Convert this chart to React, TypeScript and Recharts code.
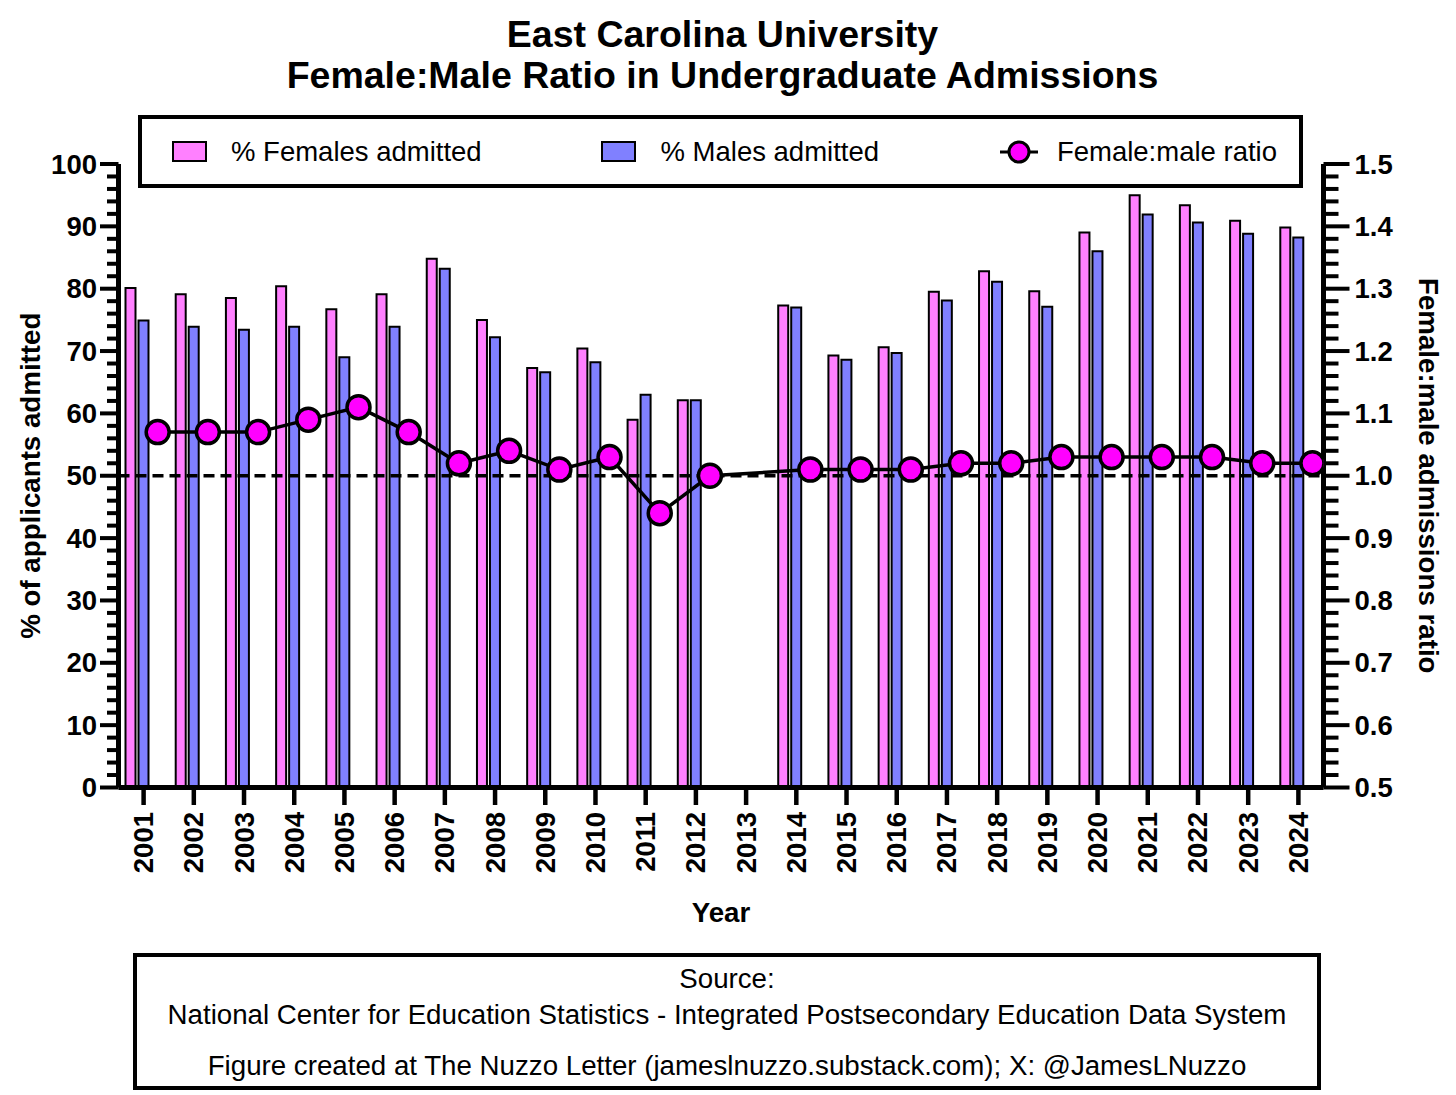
import React from 'react';
import { ComposedChart, Bar, Line, XAxis, YAxis, ReferenceLine, Legend, Label } from 'recharts';

const years = ['2001', '2002', '2003', '2004', '2005', '2006', '2007', '2008', '2009', '2010', '2011', '2012', '2013', '2014', '2015', '2016', '2017', '2018', '2019', '2020', '2021', '2022', '2023', '2024'];
const femalePct = [80.1, 79.1, 78.5, 80.4, 76.7, 79.1, 84.8, 75.0, 67.3, 70.4, 59.0, 62.1, null, 77.3, 69.3, 70.6, 79.5, 82.8, 79.6, 89.0, 95.0, 93.4, 90.9, 89.8];
const malePct = [74.9, 73.9, 73.4, 73.9, 69.0, 73.9, 83.2, 72.2, 66.6, 68.2, 63.0, 62.1, null, 77.0, 68.6, 69.7, 78.1, 81.1, 77.1, 86.0, 91.9, 90.6, 88.8, 88.2];
const ratio = [1.07, 1.07, 1.07, 1.09, 1.11, 1.07, 1.02, 1.04, 1.01, 1.03, 0.94, 1.0, null, 1.01, 1.01, 1.01, 1.02, 1.02, 1.03, 1.03, 1.03, 1.03, 1.02, 1.02];

const leftMajorTicks = [0, 10, 20, 30, 40, 50, 60, 70, 80, 90, 100];
const rightMajorTicks = [0.5, 0.6, 0.7, 0.8, 0.9, 1.0, 1.1, 1.2, 1.3, 1.4, 1.5];
const leftTicks: number[] = [];
for (let i = 0; i <= 50; i++) leftTicks.push(i * 2);
const rightTicks: number[] = [];
for (let i = 0; i <= 50; i++) rightTicks.push(Math.round((0.5 + i * 0.02) * 100) / 100);

const data = years.map((y, i) => ({
  year: y,
  yearNum: Number(y),
  female: femalePct[i],
  male: malePct[i],
  spacer: null,
  ratio: ratio[i],
}));

const FONT = '"Liberation Sans", Arial, Helvetica, sans-serif';
const PINK = '#FF80FF';
const BLUE = '#8080FF';
const MAGENTA = '#FF00FF';
const TICK_FS = 27.5;
const TITLE_FS = 27.7;

const isMajor = (v: number, list: number[]) => list.some((m) => Math.abs(m - v) < 1e-6);

const LeftTick = (props: any) => {
  const { x, y, payload } = props;
  const v = payload.value;
  const major = isMajor(v, leftMajorTicks);
  return (
    <g>
      <line x1={x} x2={x - (major ? 18.5 : 11.5)} y1={y} y2={y} stroke="#000" strokeWidth={4} />
      {major && (
        <text x={x - 21.5} y={y} textAnchor="end" dominantBaseline="central" fontSize={TICK_FS} fontWeight="bold" fontFamily={FONT} fill="#000">
          {v}
        </text>
      )}
    </g>
  );
};

const RightTick = (props: any) => {
  const { x, y, payload } = props;
  const v = payload.value;
  const major = isMajor(v, rightMajorTicks);
  return (
    <g>
      <line x1={x} x2={x + (major ? 26 : 15)} y1={y} y2={y} stroke="#000" strokeWidth={4} />
      {major && (
        <text x={x + 31} y={y} textAnchor="start" dominantBaseline="central" fontSize={TICK_FS} fontWeight="bold" fontFamily={FONT} fill="#000">
          {Number(v).toFixed(1)}
        </text>
      )}
    </g>
  );
};

const XTick = (props: any) => {
  const { x, y, payload } = props;
  const ty = y + 24.5;
  return (
    <g>
      <line x1={x} x2={x} y1={y} y2={y + 17.5} stroke="#000" strokeWidth={4.5} />
      <text x={x} y={ty} transform={`rotate(-90, ${x}, ${ty})`} textAnchor="end" dominantBaseline="central" fontSize={TICK_FS} fontWeight="bold" fontFamily={FONT} fill="#000">
        {payload.value}
      </text>
    </g>
  );
};

const renderLegend = (props: any) => {
  const payload = (props.payload || []).filter((p: any) => p.type !== 'none');
  return (
    <div
      style={{
        boxSizing: 'border-box',
        width: 1165,
        height: 73,
        border: '4px solid #000',
        background: '#fff',
        display: 'flex',
        alignItems: 'center',
        justifyContent: 'space-between',
        paddingLeft: 30,
        paddingRight: 22,
        fontFamily: FONT,
        fontSize: 27.5,
        color: '#000',
      }}
    >
      {payload.map((entry: any, i: number) => (
        <div key={i} style={{ display: 'flex', alignItems: 'center' }}>
          {entry.type === 'line' ? (
            <svg width={40} height={26} style={{ marginRight: 18 }}>
              <line x1={1} x2={39} y1={13} y2={13} stroke="#000" strokeWidth={3} />
              <circle cx={20} cy={13} r={10} fill={MAGENTA} stroke="#000" strokeWidth={3} />
            </svg>
          ) : (
            <div style={{ boxSizing: 'border-box', width: 35, height: 21, background: entry.color, border: '2px solid #000', marginRight: 24 }} />
          )}
          <span style={{ lineHeight: '30px' }}>{entry.value}</span>
        </div>
      ))}
    </div>
  );
};

const YLeftTitle = (props: any) => {
  const vb = props.viewBox || {};
  const cx = vb.x + 22;
  const cy = vb.y + vb.height / 2;
  return (
    <text x={cx} y={cy} transform={`rotate(-90, ${cx}, ${cy})`} textAnchor="middle" dominantBaseline="central" fontSize={TITLE_FS} fontWeight="bold" fontFamily={FONT} fill="#000">
      % of applicants admitted
    </text>
  );
};

const YRightTitle = (props: any) => {
  const vb = props.viewBox || {};
  const cx = vb.x + 104.5;
  const cy = vb.y + vb.height / 2;
  return (
    <text x={cx} y={cy} transform={`rotate(90, ${cx}, ${cy})`} textAnchor="middle" dominantBaseline="central" fontSize={TITLE_FS} fontWeight="bold" fontFamily={FONT} fill="#000">
      Female:male admissions ratio
    </text>
  );
};

const XTitle = (props: any) => {
  const vb = props.viewBox || {};
  const cx = vb.x + vb.width / 2;
  const cy = vb.y + 124.5;
  return (
    <text x={cx} y={cy} textAnchor="middle" dominantBaseline="central" fontSize={TITLE_FS} fontWeight="bold" fontFamily={FONT} fill="#000">
      Year
    </text>
  );
};

export default function App() {
  return (
    <div style={{ position: 'relative', width: 1440, height: 1087, fontFamily: FONT, background: '#fff' }}>
      <div style={{ position: 'absolute', left: 0, top: 6, width: 1429, textAlign: 'center', fontSize: 37.5, fontWeight: 'bold', lineHeight: '40px', color: '#000' }}>
        East Carolina University
      </div>
      <div style={{ position: 'absolute', left: 0, top: 47, width: 1429, textAlign: 'center', fontSize: 37.5, fontWeight: 'bold', lineHeight: '40px', color: '#000' }}>
        Female:Male Ratio in Undergraduate Admissions
      </div>

      <ComposedChart
        width={1440}
        height={1087}
        data={data}
        margin={{ top: 156, right: 0, bottom: 207.5, left: 0 }}
        barGap={3}
        style={{ position: 'absolute', left: 0, top: 0 }}
      >
        <XAxis
          dataKey="year"
          interval={0}
          tickSize={0}
          tickMargin={0}
          tickLine={false}
          axisLine={{ stroke: '#000', strokeWidth: 5 }}
          tick={XTick}
          height={100}
        >
          <Label content={XTitle} />
        </XAxis>
        <XAxis xAxisId="num" type="number" dataKey="yearNum" domain={[2000.22, 2024.22]} allowDataOverflow hide />
        <YAxis
          yAxisId="left"
          domain={[0, 100]}
          ticks={leftTicks}
          interval={0}
          tickSize={0}
          tickMargin={0}
          tickLine={false}
          axisLine={{ stroke: '#000', strokeWidth: 5 }}
          tick={LeftTick}
          width={110.5}
        >
          <Label content={YLeftTitle} />
        </YAxis>
        <YAxis
          yAxisId="right"
          orientation="right"
          domain={[0.5, 1.5]}
          ticks={rightTicks}
          interval={0}
          tickSize={0}
          tickMargin={0}
          tickLine={false}
          axisLine={{ stroke: '#000', strokeWidth: 5 }}
          tick={RightTick}
          width={124.5}
        >
          <Label content={YRightTitle} />
        </YAxis>
        <Legend
          layout="horizontal"
          verticalAlign="middle"
          align="center"
          wrapperStyle={{ top: 107, left: 130, width: 1165, height: 73 }}
          content={renderLegend}
        />
        <Bar yAxisId="left" dataKey="female" name="% Females admitted" fill={PINK} stroke="#000" strokeWidth={2} barSize={10} isAnimationActive={false} />
        <Bar yAxisId="left" dataKey="male" name="% Males admitted" fill={BLUE} stroke="#000" strokeWidth={2} barSize={10} isAnimationActive={false} />
        <Bar yAxisId="left" dataKey="spacer" name="spacer" fill="none" legendType="none" barSize={10} isAnimationActive={false} />
        <ReferenceLine yAxisId="left" y={50} stroke="#000" strokeWidth={3.5} strokeDasharray="11 6" />
        <Line
          xAxisId="num"
          yAxisId="right"
          dataKey="ratio"
          name="Female:male ratio"
          stroke="#000"
          strokeWidth={3.5}
          connectNulls
          dot={{ r: 11.5, fill: MAGENTA, stroke: '#000', strokeWidth: 3.5 }}
          activeDot={false}
          isAnimationActive={false}
        />
      </ComposedChart>

      <div
        style={{
          position: 'absolute',
          left: 125,
          top: 945,
          width: 1188,
          height: 137,
          boxSizing: 'border-box',
          border: '4px solid #000',
          background: '#fff',
          fontSize: 27.7,
          color: '#000',
          textAlign: 'center',
        }}
      >
        <div style={{ position: 'absolute', left: 0, right: 0, top: 4, lineHeight: '36px' }}>Source:</div>
        <div style={{ position: 'absolute', left: 0, right: 0, top: 40, lineHeight: '36px' }}>
          National Center for Education Statistics - Integrated Postsecondary Education Data System
        </div>
        <div style={{ position: 'absolute', left: 0, right: 0, top: 91, lineHeight: '36px' }}>
          Figure created at The Nuzzo Letter (jameslnuzzo.substack.com); X: @JamesLNuzzo
        </div>
      </div>
    </div>
  );
}
